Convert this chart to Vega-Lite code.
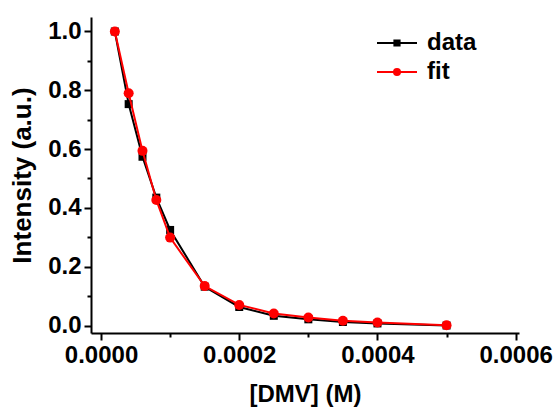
{
  "$schema": "https://vega.github.io/schema/vega-lite/v6.json",
  "width": 428,
  "height": 316,
  "autosize": {"type": "none"},
  "padding": {"left": 91, "top": 17, "right": 35, "bottom": 77},
  "background": "white",
  "config": {
    "font": "Liberation Sans",
    "view": {"stroke": null},
    "axis": {
      "grid": false,
      "domainColor": "black",
      "domainWidth": 2,
      "tickColor": "black",
      "tickWidth": 2,
      "labelFont": "Liberation Sans",
      "labelFontWeight": "bold",
      "labelFontSize": 24,
      "labelColor": "black",
      "titleFont": "Liberation Sans",
      "titleFontWeight": "bold",
      "titleFontSize": 24,
      "titleColor": "black"
    }
  },
  "datasets": {
    "pts": [
      {"conc": 0.00002, "series": "data", "intensity": 1.0},
      {"conc": 0.00004, "series": "data", "intensity": 0.753},
      {"conc": 0.00006, "series": "data", "intensity": 0.574},
      {"conc": 0.00008, "series": "data", "intensity": 0.435},
      {"conc": 0.0001, "series": "data", "intensity": 0.325},
      {"conc": 0.00015, "series": "data", "intensity": 0.132},
      {"conc": 0.0002, "series": "data", "intensity": 0.063},
      {"conc": 0.00025, "series": "data", "intensity": 0.033},
      {"conc": 0.0003, "series": "data", "intensity": 0.021},
      {"conc": 0.00035, "series": "data", "intensity": 0.012},
      {"conc": 0.0004, "series": "data", "intensity": 0.007},
      {"conc": 0.0005, "series": "data", "intensity": 0.0},
      {"conc": 0.00002, "series": "fit", "intensity": 1.0},
      {"conc": 0.00004, "series": "fit", "intensity": 0.79},
      {"conc": 0.00006, "series": "fit", "intensity": 0.594},
      {"conc": 0.00008, "series": "fit", "intensity": 0.427},
      {"conc": 0.0001, "series": "fit", "intensity": 0.299},
      {"conc": 0.00015, "series": "fit", "intensity": 0.134},
      {"conc": 0.0002, "series": "fit", "intensity": 0.07},
      {"conc": 0.00025, "series": "fit", "intensity": 0.041},
      {"conc": 0.0003, "series": "fit", "intensity": 0.027},
      {"conc": 0.00035, "series": "fit", "intensity": 0.016},
      {"conc": 0.0004, "series": "fit", "intensity": 0.01},
      {"conc": 0.0005, "series": "fit", "intensity": 0.001}
    ]
  },
  "data": {"name": "pts"},
  "layer": [
    {
      "transform": [{"filter": "datum.series === 'data'"}],
      "mark": {"type": "line", "strokeWidth": 2, "point": {"shape": "square", "size": 64, "filled": true, "opacity": 1}},
      "encoding": {
        "x": {
          "field": "conc", "type": "quantitative",
          "scale": {"domain": [-0.0000145, 0.0006048], "nice": false, "zero": false},
          "axis": {"orient": "bottom", "title": "[DMV] (M)", "values": [0, 0.0002, 0.0004, 0.0006], "format": ".4f", "tickSize": 7, "labelPadding": 3, "titlePadding": 15, "labelFlush": false}
        },
        "y": {
          "field": "intensity", "type": "quantitative",
          "scale": {"domain": [-0.0255, 1.0493], "nice": false, "zero": false},
          "axis": {"orient": "left", "title": "Intensity (a.u.)", "titleFontSize": 26, "values": [0, 0.2, 0.4, 0.6, 0.8, 1.0], "format": ".1f", "tickSize": 7, "labelPadding": 3, "titlePadding": 12, "labelFlush": false}
        },
        "color": {
          "field": "series", "type": "nominal",
          "scale": {"domain": ["data", "fit"], "range": ["black", "red"]},
          "legend": {
            "title": null,
            "orient": "none",
            "legendX": 294,
            "legendY": 14,
            "padding": 0,
            "symbolSize": 400,
            "symbolStrokeWidth": 2,
            "labelFont": "Liberation Sans",
            "labelFontWeight": "bold",
            "labelFontSize": 24,
            "labelColor": "black",
            "labelOffset": 18,
            "rowPadding": 5,
            "encode": {
              "symbols": {
                "update": {
                  "shape": {"signal": "datum.label === 'data' ? 'M-2,0H2M-0.26,-0.26H0.26V0.26H-0.26Z' : 'M-2,0H2M-0.3,0A0.3,0.3,0,1,1,0.3,0A0.3,0.3,0,1,1,-0.3,0Z'"},
                  "fill": {"signal": "datum.label === 'data' ? 'black' : 'red'"},
                  "stroke": {"signal": "datum.label === 'data' ? 'black' : 'red'"},
                  "strokeWidth": {"value": 2},
                  "opacity": {"value": 1}
                }
              }
            }
          }
        }
      }
    },
    {
      "transform": [{"filter": "datum.series === 'fit'"}],
      "mark": {"type": "line", "strokeWidth": 2, "point": {"shape": "circle", "size": 100, "filled": true, "opacity": 1}},
      "encoding": {
        "x": {
          "field": "conc", "type": "quantitative",
          "axis": {"orient": "bottom", "title": null, "values": [0.0001, 0.0003, 0.0005], "labels": false, "domain": false, "tickSize": 4}
        },
        "y": {
          "field": "intensity", "type": "quantitative",
          "axis": {"orient": "left", "title": null, "values": [0.1, 0.3, 0.5, 0.7, 0.9], "labels": false, "domain": false, "tickSize": 4}
        },
        "color": {"field": "series", "type": "nominal"}
      }
    }
  ],
  "resolve": {"axis": {"x": "independent", "y": "independent"}}
}
